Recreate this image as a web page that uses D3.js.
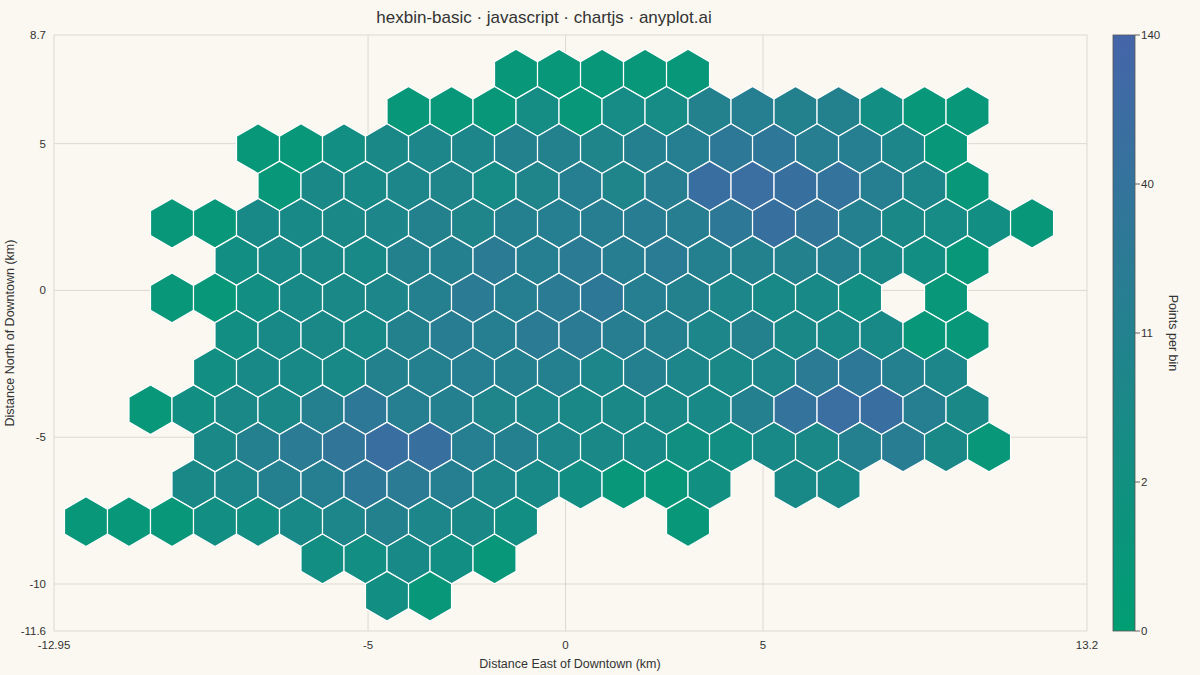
<!DOCTYPE html>
<html>
<head>
<meta charset="utf-8">
<script src="https://cdn.jsdelivr.net/npm/d3@7"></script>
<style>
  body { margin: 0; background: #faf8f1; }
  text { font-family: "Liberation Sans", Arial, sans-serif; fill: #333; }
</style>
</head>
<body>
<svg id="chart" width="1200" height="675"></svg>
<script>
// hex grid: row 0 is the top row, odd rows are shifted by half a column
var rowIndex = [0, 1, 2, 3, 4, 5, 6, 6, 7, 8, 9, 10, 11, 11, 12, 12, 13, 14];
var startCol = [10, 7, 4, 4, 2, 3, 2, 20, 3, 3, 1, 3, 2, 16, 0, 14, 5, 7];
var counts = [
  [1, 1, 1, 1, 1],
  [1, 1, 1, 4, 1, 5, 5, 12, 16, 12, 12, 3, 1, 1],
  [1, 1, 3, 7, 8, 8, 12, 12, 9, 14, 16, 30, 32, 18, 16, 8, 1],
  [1, 7, 6, 8, 9, 5, 9, 16, 9, 18, 70, 80, 60, 40, 16, 8, 1],
  [1, 1, 6, 6, 7, 8, 12, 9, 14, 16, 18, 20, 18, 30, 60, 35, 14, 7, 5, 3, 1],
  [3, 6, 7, 6, 12, 14, 25, 16, 25, 18, 22, 14, 12, 12, 14, 7, 3, 1],
  [1, 1, 3, 6, 7, 8, 14, 25, 16, 25, 30, 16, 12, 8, 6, 6, 3],
  [1],
  [3, 6, 7, 6, 12, 20, 16, 25, 25, 18, 14, 8, 12, 7, 6, 6, 1, 1],
  [3, 6, 6, 6, 12, 14, 16, 14, 14, 8, 14, 8, 7, 8, 25, 30, 14, 8],
  [1, 3, 7, 7, 14, 30, 16, 14, 9, 8, 7, 7, 7, 6, 14, 40, 80, 70, 16, 7],
  [7, 14, 25, 35, 70, 60, 16, 14, 8, 7, 6, 2, 3, 6, 7, 14, 20, 7, 1],
  [7, 8, 14, 16, 30, 25, 16, 8, 6, 3, 1, 1, 2],
  [6, 6],
  [1, 1, 1, 3, 3, 6, 8, 12, 8, 7, 3],
  [1],
  [3, 3, 6, 3, 1],
  [3, 1]
];
var xTicks = [-12.95, -5, 0, 5, 13.2];
var yTicks = [8.7, 5, 0, -5, -10, -11.6];
var colorTicks = [0, 2, 11, 40, 140];

var colW = 1.0886, rowH = 1.2703, x0 = -12.14, yTop = 7.37;

var svg = d3.select("#chart");
var m = { left: 54, right: 1087, top: 35, bottom: 631 };

var x = d3.scaleLinear().domain([-12.95, 13.2]).range([m.left, m.right]);
var y = d3.scaleLinear().domain([-11.6, 8.7]).range([m.bottom, m.top]);
// colour ticks sit at equal steps along the bar
var t = d3.scaleLinear().domain(colorTicks).range([0, 0.25, 0.5, 0.75, 1]).clamp(true);
var color = function (v) { return d3.interpolateRgb("#009e73", "#4565a9")(t(v)); };

// grid
var grid = svg.append("g").attr("stroke", "#ddd9d0").attr("stroke-width", 1);
xTicks.forEach(function (d) {
  grid.append("line").attr("x1", x(d)).attr("x2", x(d)).attr("y1", m.top).attr("y2", m.bottom);
});
yTicks.forEach(function (d) {
  grid.append("line").attr("x1", m.left).attr("x2", m.right).attr("y1", y(d)).attr("y2", y(d));
});

// hexes
var bins = [];
rowIndex.forEach(function (r, i) {
  counts[i].forEach(function (v, j) {
    var k = startCol[i] + j;
    bins.push({ cx: x0 + (k + (r % 2 ? 0.5 : 0)) * colW, cy: yTop - r * rowH, v: v });
  });
});
var rad = (x(colW) - x(0)) / Math.sqrt(3);
var hexPath = d3.range(6).map(function (i) {
  var a = Math.PI / 3 * i - Math.PI / 2;
  return [rad * Math.cos(a), rad * Math.sin(a)];
});
svg.append("g").selectAll("path").data(bins).join("path")
  .attr("transform", function (d) { return "translate(" + x(d.cx) + "," + y(d.cy) + ")"; })
  .attr("d", "M" + hexPath.join("L") + "Z")
  .attr("fill", function (d) { return color(d.v); })
  .attr("stroke", "#ffffff").attr("stroke-width", 1.2);

// tick labels
svg.append("g").selectAll("text").data(xTicks).join("text")
  .attr("x", function (d) { return x(d); }).attr("y", 649)
  .attr("text-anchor", "middle").attr("font-size", 11.5).text(function (d) { return d; });
svg.append("g").selectAll("text").data(yTicks).join("text")
  .attr("x", 46).attr("y", function (d) { return y(d) + 4; })
  .attr("text-anchor", "end").attr("font-size", 11.5).text(function (d) { return d; });

svg.append("text").attr("x", 570).attr("y", 668).attr("text-anchor", "middle")
  .attr("font-size", 12.5).text("Distance East of Downtown (km)");
svg.append("text").attr("transform", "translate(14,333) rotate(-90)").attr("text-anchor", "middle")
  .attr("font-size", 12.5).text("Distance North of Downtown (km)");
svg.append("text").attr("x", 544).attr("y", 23).attr("text-anchor", "middle")
  .attr("font-size", 17).text("hexbin-basic · javascript · chartjs · anyplot.ai");

// colour bar
var cb = d3.scaleLinear().domain([0, 1]).range([m.bottom, m.top]);
var grad = svg.append("defs").append("linearGradient").attr("id", "cbar")
  .attr("x1", 0).attr("x2", 0).attr("y1", 1).attr("y2", 0);
grad.append("stop").attr("offset", 0).attr("stop-color", "#009e73");
grad.append("stop").attr("offset", 1).attr("stop-color", "#4565a9");
svg.append("rect").attr("x", 1113).attr("y", m.top).attr("width", 22).attr("height", m.bottom - m.top)
  .attr("fill", "url(#cbar)").attr("stroke", "#555").attr("stroke-width", 0.8);
var cbt = svg.append("g").selectAll("g").data(colorTicks).join("g")
  .attr("transform", function (d) { return "translate(1135," + cb(t(d)) + ")"; });
cbt.append("line").attr("x2", 5).attr("stroke", "#666");
cbt.append("text").attr("x", 6).attr("y", 4).attr("font-size", 11.5).text(function (d) { return d; });
svg.append("text").attr("transform", "translate(1169,333) rotate(90)").attr("text-anchor", "middle")
  .attr("font-size", 12.5).text("Points per bin");
</script>
</body>
</html>
